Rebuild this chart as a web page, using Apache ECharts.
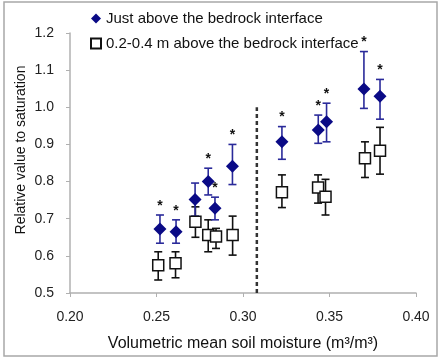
<!DOCTYPE html>
<html>
<head>
<meta charset="utf-8">
<script src="https://cdn.jsdelivr.net/npm/echarts@6/dist/echarts.min.js"></script>
<style>
  html, body { margin: 0; padding: 0; background: #fff; }
  #chart { width: 439px; height: 358px; }
</style>
</head>
<body>
<div id="chart"></div>
<script>
// Soil moisture vs. relative value to saturation, two depths above bedrock
const seriesNames = ['Just above the bedrock interface', '0.2-0.4 m above the bedrock interface'];

// Just above the bedrock interface
const xJust  = [0.252, 0.2613, 0.2723, 0.2799, 0.2838, 0.2939, 0.3225, 0.3435, 0.3483, 0.3699, 0.3792];
const yJust  = [0.672, 0.665, 0.752, 0.800, 0.728, 0.841, 0.907, 0.939, 0.961, 1.049, 1.030];
const hiJust = [0.710, 0.697, 0.796, 0.836, 0.758, 0.900, 0.948, 0.979, 1.011, 1.150, 1.075];
const loJust = [0.634, 0.634, 0.707, 0.764, 0.697, 0.792, 0.860, 0.903, 0.907, 0.997, 0.968];

// 0.2-0.4 m above the bedrock interface
const xDeep  = [0.2510, 0.2610, 0.2725, 0.2799, 0.2844, 0.2940, 0.3225, 0.3434, 0.3477, 0.3705, 0.3792];
const yDeep  = [0.575, 0.580, 0.692, 0.656, 0.652, 0.656, 0.771, 0.784, 0.759, 0.863, 0.883];
const hiDeep = [0.611, 0.611, 0.732, 0.697, 0.674, 0.707, 0.818, 0.818, 0.806, 0.907, 0.946];
const loDeep = [0.535, 0.541, 0.650, 0.611, 0.620, 0.602, 0.730, 0.742, 0.710, 0.811, 0.820];

// significance marks (1 = asterisk above the upper error bar)
const significant = [1, 1, 0, 1, 1, 1, 1, 1, 1, 1, 1];

// dashed divider position on the moisture axis
const dividerX = 0.308;
const dividerY = [0.5, 1.0];

const xTicks = { min: 0.2, max: 0.4, interval: 0.05 };
const yTicks = { min: 0.5, max: 1.2, interval: 0.1 };

const FONT = '"Liberation Sans", Arial, sans-serif';
const NAVY = '#0a0a86';
const NAVY_BAR = '#2a2a9a';

const pts = (xs, ys) => xs.map((x, i) => [x, ys[i]]);
const bars = (xs, lo, hi) => xs.map((x, i) => [x, lo[i], hi[i]]);

function errorBar(color) {
  return function (params, api) {
    const x = api.value(0);
    const pLo = api.coord([x, api.value(1)]);
    const pHi = api.coord([x, api.value(2)]);
    const w = 4;
    const style = { stroke: color, lineWidth: 1.6 };
    return {
      type: 'group',
      children: [
        { type: 'line', shape: { x1: pHi[0], y1: pHi[1], x2: pLo[0], y2: pLo[1] }, style },
        { type: 'line', shape: { x1: pHi[0] - w, y1: pHi[1], x2: pHi[0] + w, y2: pHi[1] }, style },
        { type: 'line', shape: { x1: pLo[0] - w, y1: pLo[1], x2: pLo[0] + w, y2: pLo[1] }, style }
      ]
    };
  };
}

const starData = xJust.map((x, i) => [x, hiJust[i], significant[i]]).filter(d => d[2] === 1);

const chart = echarts.init(document.getElementById('chart'), null, { renderer: 'canvas' });

chart.setOption({
  animation: false,
  backgroundColor: '#fff',
  textStyle: { fontFamily: FONT },
  graphic: [{
    type: 'rect',
    shape: { x: 4, y: 2, width: 433, height: 354 },
    style: { fill: 'none', stroke: '#a8a8a8', lineWidth: 1.5 },
    silent: true
  }],
  grid: { left: 70, right: 23, top: 33, bottom: 65 },
  legend: {
    data: seriesNames,
    orient: 'vertical',
    left: 85,
    top: 6,
    itemGap: 10,
    itemWidth: 10,
    itemHeight: 10,
    textStyle: { fontFamily: FONT, fontSize: 15, color: '#111' }
  },
  xAxis: {
    type: 'value',
    min: xTicks.min, max: xTicks.max, interval: xTicks.interval,
    name: 'Volumetric mean soil moisture (m³/m³)',
    nameLocation: 'middle',
    nameGap: 43,
    nameMoveOverlap: false,
    nameTextStyle: { fontFamily: FONT, fontSize: 16, color: '#111' },
    axisLine: { lineStyle: { color: '#b0b0b0', width: 1.5 } },
    axisTick: { length: 4, lineStyle: { color: '#b0b0b0' } },
    axisLabel: { margin: 17, fontSize: 14, color: '#222', fontFamily: FONT, formatter: v => v.toFixed(2) },
    splitLine: { show: false }
  },
  yAxis: {
    type: 'value',
    min: yTicks.min, max: yTicks.max, interval: yTicks.interval,
    name: 'Relative value to saturation',
    nameLocation: 'middle',
    nameGap: 42,
    nameMoveOverlap: false,
    nameTextStyle: { fontFamily: FONT, fontSize: 14, color: '#111', padding: [0, 0, 0, 26] },
    axisLine: { show: true, lineStyle: { color: '#b0b0b0', width: 1.5 } },
    axisTick: { show: true, length: 4, lineStyle: { color: '#b0b0b0' } },
    axisLabel: { margin: 16, fontSize: 14, color: '#222', fontFamily: FONT, formatter: v => v.toFixed(1) },
    splitLine: { show: false }
  },
  series: [
    {
      name: 'divider',
      type: 'line',
      data: dividerY.map(y => [dividerX, y]),
      symbol: 'none',
      lineStyle: { color: '#333', width: 2.5, type: [4, 3] },
      z: 1,
      silent: true
    },
    {
      type: 'custom',
      data: bars(xDeep, loDeep, hiDeep),
      renderItem: errorBar('#111'),
      encode: { x: 0, y: [1, 2] },
      z: 2,
      silent: true
    },
    {
      type: 'custom',
      data: bars(xJust, loJust, hiJust),
      renderItem: errorBar(NAVY_BAR),
      encode: { x: 0, y: [1, 2] },
      z: 3,
      silent: true
    },
    {
      name: seriesNames[1],
      type: 'scatter',
      data: pts(xDeep, yDeep),
      symbol: 'rect',
      symbolSize: 11,
      itemStyle: { color: '#fff', borderColor: '#111', borderWidth: 1.5, opacity: 1 },
      z: 4
    },
    {
      name: seriesNames[0],
      type: 'scatter',
      data: pts(xJust, yJust),
      symbol: 'diamond',
      symbolSize: 13,
      itemStyle: { color: NAVY, opacity: 1 },
      z: 5
    },
    {
      type: 'custom',
      data: starData,
      encode: { x: 0, y: 1 },
      renderItem: function (params, api) {
        const p = api.coord([api.value(0), api.value(1)]);
        return {
          type: 'text',
          x: p[0],
          y: p[1] - 9,
          style: { text: '*', fontSize: 14, fontWeight: 'bold', fontFamily: FONT, fill: '#111', align: 'center', verticalAlign: 'middle' }
        };
      },
      z: 6,
      silent: true
    }
  ]
});
</script>
</body>
</html>
